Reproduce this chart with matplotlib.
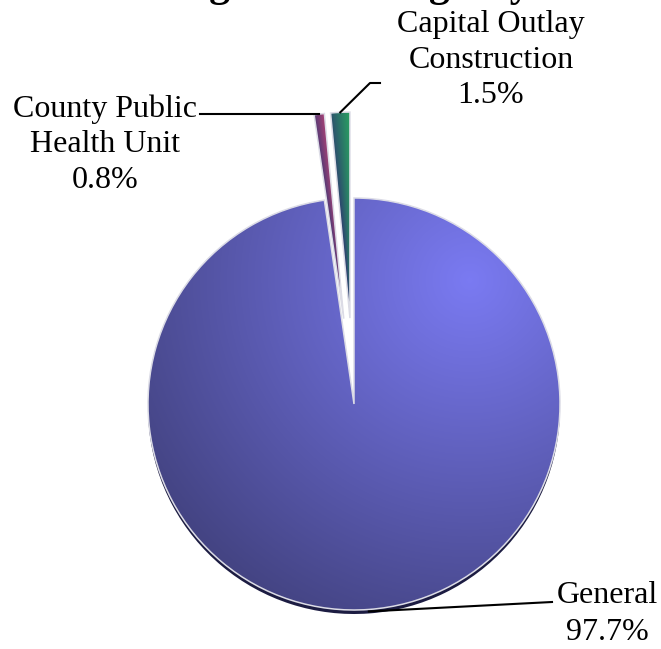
import numpy as np
import matplotlib
matplotlib.use("Agg")
import matplotlib.pyplot as plt
from matplotlib.patches import Wedge

# Fund shares of the budget (percent)
funds = ["Capital Outlay\nConstruction", "County Public\nHealth Unit", "General"]
shares = [1.5, 0.8, 97.7]

W, H = 661, 649
fig = plt.figure(figsize=(W / 100, H / 100), dpi=100)
ax = fig.add_axes([0, 0, 1, 1])

serif = "Liberation Serif"
cx, cy, R = 354, H - 404, 206
pull = 86

wedges, _ = ax.pie(shares, startangle=90, counterclock=True, radius=R,
                   center=(cx, cy), explode=[pull, pull, 0], frame=True,
                   wedgeprops=dict(edgecolor="#dcdce6", linewidth=1.1,
                                   facecolor="none", zorder=4))
ax.set_xlim(0, W)
ax.set_ylim(0, H)
ax.set_aspect("equal")
ax.axis("off")

# dark rim under the large slice for a slight depth effect
gw = wedges[2]
rim = Wedge((gw.center[0], gw.center[1] - 4), gw.r, gw.theta1, gw.theta2,
            facecolor="#1c1c42", edgecolor="none", zorder=1)
ax.add_patch(rim)


def lerp(a, b, t):
    a = np.asarray(a)[None, None, :]
    b = np.asarray(b)[None, None, :]
    t = np.clip(t, 0, 1)[..., None]
    return a * (1 - t) + b * t


def shade(w, colour_fn):
    ext = w.get_path().get_extents(w.get_patch_transform())
    x0, y0, x1, y1 = ext.x0 - 2, ext.y0 - 2, ext.x1 + 2, ext.y1 + 2
    nx = max(int((x1 - x0) * 2), 4)
    ny = max(int((y1 - y0) * 2), 4)
    X, Y = np.meshgrid(np.linspace(x0, x1, nx), np.linspace(y0, y1, ny))
    rgb = colour_fn(w, X, Y)
    im = ax.imshow(rgb, extent=(x0, x1, y0, y1), origin="lower",
                   interpolation="bilinear", zorder=2)
    im.set_clip_path(w)


def general_colour(w, X, Y):
    hx, hy = 470, H - 280
    d = np.hypot(X - hx, Y - hy) / 420
    return lerp((0.48, 0.48, 0.95), (0.24, 0.24, 0.46), d)


def angular(w, X, Y):
    th = np.degrees(np.arctan2(Y - w.center[1], X - w.center[0])) % 360
    t = (th - w.theta1) / (w.theta2 - w.theta1)
    rr = np.hypot(X - w.center[0], Y - w.center[1]) / w.r
    return np.clip(t, 0, 1), np.clip(rr, 0, 1)


def green_colour(w, X, Y):
    t, rr = angular(w, X, Y)
    return lerp((0.16, 0.64, 0.38), (0.18, 0.24, 0.44), 0.75 * t + 0.35 * (1 - rr))


def purple_colour(w, X, Y):
    t, rr = angular(w, X, Y)
    return lerp((0.66, 0.26, 0.46), (0.26, 0.22, 0.46), 0.75 * t + 0.35 * (1 - rr))


shade(wedges[0], green_colour)
shade(wedges[1], purple_colour)
shade(wedges[2], general_colour)


def outer_point(w):
    mid = np.radians(0.5 * (w.theta1 + w.theta2))
    return (w.center[0] + w.r * np.cos(mid), w.center[1] + w.r * np.sin(mid))


def label_lines(text, value, x, y0, step):
    lines = text.split("\n") + [f"{value:.1f}%"]
    for i, s in enumerate(lines):
        ax.text(x, H - (y0 + i * step), s, ha="center", va="baseline",
                fontsize=23, family=serif, color="black", zorder=6)


# Capital Outlay Construction
px, py = outer_point(wedges[0])
ax.plot([px, 370, 380], [py, H - 83, H - 83], color="black", lw=1.5, zorder=5)
label_lines(funds[0], shares[0], 491, 32, 35.5)

# County Public Health Unit
px, py = outer_point(wedges[1])
ax.plot([px, 200], [py, py], color="black", lw=1.5, zorder=5)
label_lines(funds[1], shares[1], 105, 117, 35.5)

# General
px, py = outer_point(wedges[2])
ax.plot([px, 552], [py - 2, H - 602], color="black", lw=1.5, zorder=5)
label_lines(funds[2], shares[2], 607, 603, 37)

fig.text(0.504, 1 + 3.6 / H, "Budget for the Agency", ha="center",
         va="baseline", fontsize=30, fontweight="bold", family=serif)

fig.savefig("out.png", dpi=100, facecolor="white")
